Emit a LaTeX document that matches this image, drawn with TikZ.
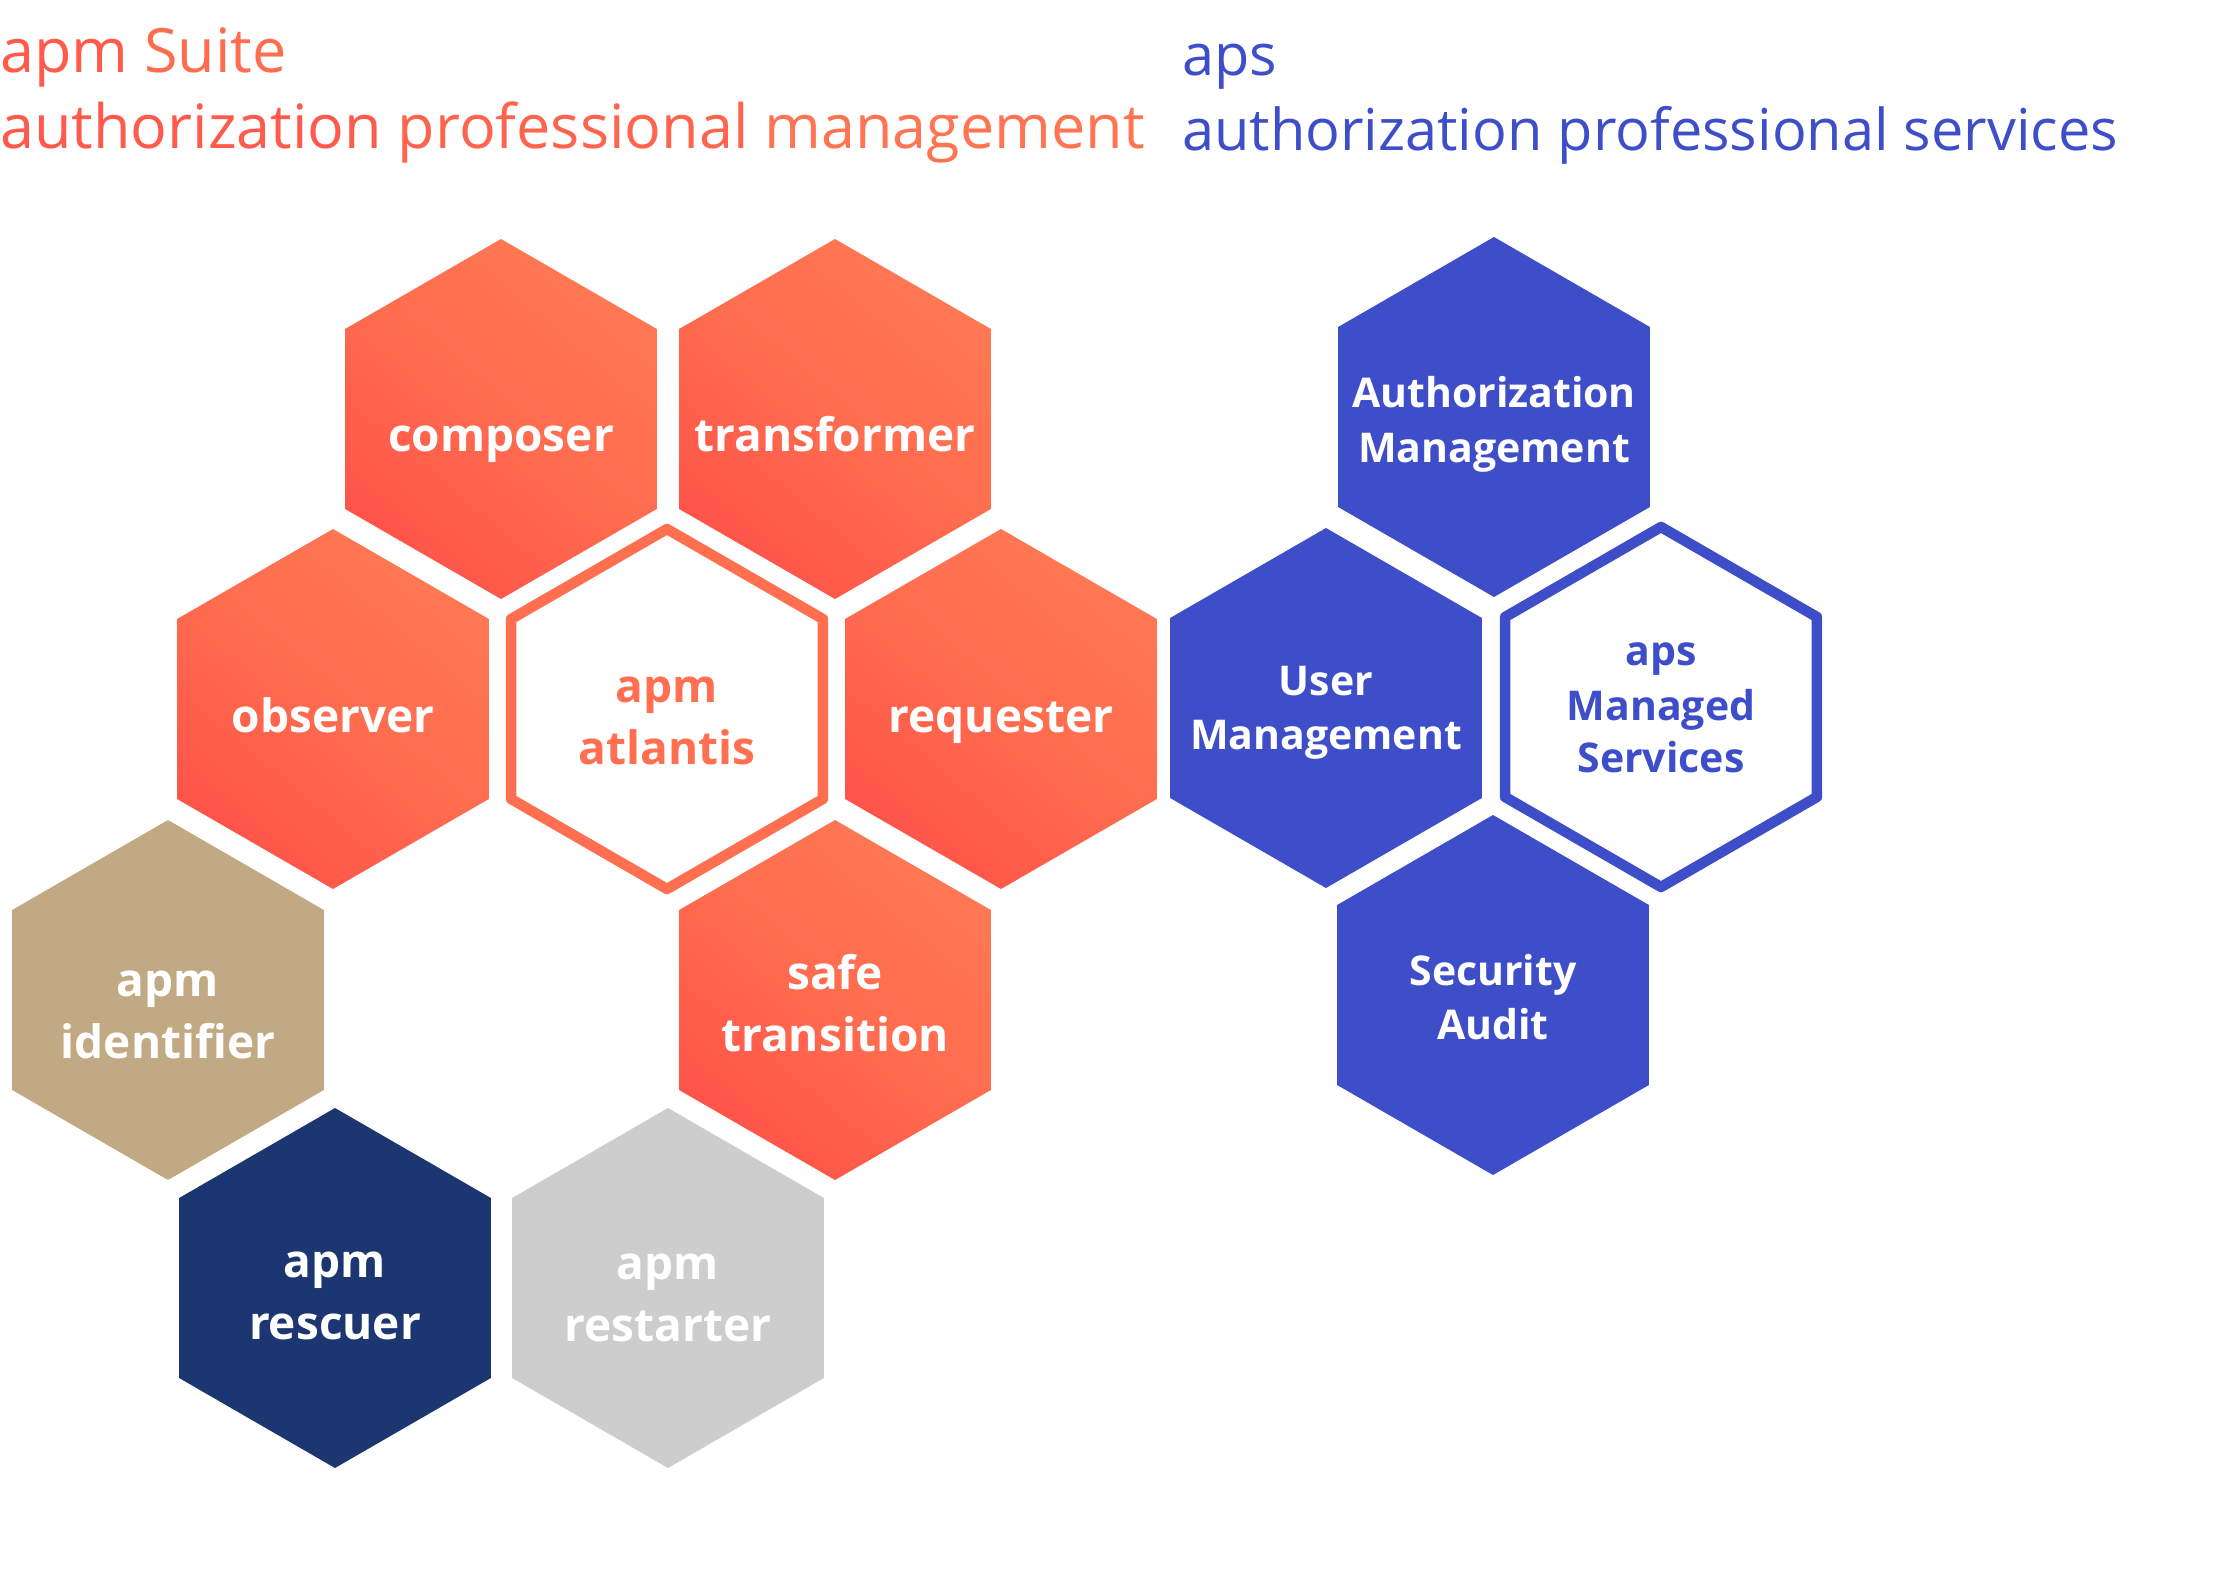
\documentclass[tikz,border=0pt]{standalone}
\usepackage{fontspec}
\setmainfont{Open Sans}
\usetikzlibrary{shapes.geometric}
\definecolor{orL}{HTML}{FF7853}
\definecolor{orM}{HTML}{FF6C4F}
\definecolor{orD}{HTML}{FF5449}
\definecolor{apsblue}{HTML}{3D4EC8}
\definecolor{tanhex}{HTML}{C1AA83}
\definecolor{navyhex}{HTML}{1B3670}
\definecolor{greyhex}{HTML}{CDCDCD}
\definecolor{atlorange}{HTML}{FF6F50}
\definecolor{tA}{HTML}{FF5A4C}
\definecolor{tB}{HTML}{FF644E}
\definecolor{tC}{HTML}{FF6D50}
\definecolor{tD}{HTML}{FF7452}
\begin{document}
\begin{tikzpicture}[x=1pt,y=-1pt,
  hexbase/.style={regular polygon, regular polygon sides=6, shape border rotate=30,
    minimum size=360pt, inner sep=0pt, outer sep=0pt},
  orangehex/.style={hexbase, top color=orL, bottom color=orD, middle color=orM, shading angle=-40},
  bluehex/.style={hexbase, fill=apsblue},
  tanhexs/.style={hexbase, fill=tanhex},
  navyhexs/.style={hexbase, fill=navyhex},
  greyhexs/.style={hexbase, fill=greyhex},
  outlinehex/.style={hexbase, fill=white, line width=10.5pt, line join=round, draw=#1},
  biglbl/.style={anchor=base, inner sep=0pt, text=white, font=\bfseries\fontsize{46}{62}\selectfont},
  smalllbl/.style={anchor=base, inner sep=0pt, text=white, font=\bfseries\fontsize{41}{54}\selectfont},
  titlelbl/.style={anchor=base west, inner sep=0pt}
]
\useasboundingbox (0,0) rectangle (2220,1594);

% titles
\node[titlelbl, font=\fontsize{61.1}{72}\selectfont] (suite) at (0,73)
  {\textcolor{tA}{apm} \textcolor{tC}{Suite}};
\node[titlelbl, font=\fontsize{61.1}{72}\selectfont] (suitefull) at (0,149)
  {\textcolor{tA}{authorization} \textcolor{tB}{professional} \textcolor{tD}{management}};
\node[titlelbl, font=\fontsize{57.7}{70}\selectfont, text=apsblue] (aps) at (1182,76) {aps};
\node[titlelbl, font=\fontsize{57.7}{70}\selectfont, text=apsblue] (apsfull) at (1182,151)
  {authorization professional services};

% hexagons
\node[orangehex] (composer) at (501,419) {};
\node[orangehex] (transformer) at (835,419) {};
\node[orangehex] (observer) at (333,709) {};
\node[outlinehex=atlorange] (atlantis) at (667,709) {};
\node[orangehex] (requester) at (1001,709) {};
\node[tanhexs] (identifier) at (168,1000) {};
\node[orangehex] (safe) at (835,1000) {};
\node[navyhexs] (rescuer) at (335,1288) {};
\node[greyhexs] (restarter) at (668,1288) {};
\node[bluehex] (authmgmt) at (1494,417) {};
\node[bluehex] (usermgmt) at (1326,708) {};
\node[outlinehex=apsblue] (apsms) at (1661,707) {};
\node[bluehex] (security) at (1493,995) {};

% labels
\node[biglbl] (composer-t) at (501,452) {composer};
\node[biglbl] (transformer-t) at (835,452) {transformer};
\node[biglbl] (observer-t) at (333,732) {observer};
\node[biglbl, text=atlorange] (atlantis-t1) at (667,702) {apm};
\node[biglbl, text=atlorange] (atlantis-t2) at (667,764) {atlantis};
\node[biglbl] (requester-t) at (1001,732) {requester};
\node[biglbl] (identifier-t1) at (168,996) {apm};
\node[biglbl] (identifier-t2) at (168,1058) {identifier};
\node[biglbl] (safe-t1) at (835,989) {safe};
\node[biglbl] (safe-t2) at (835,1051) {transition};
\node[biglbl] (rescuer-t1) at (335,1277) {apm};
\node[biglbl] (rescuer-t2) at (335,1339) {rescuer};
\node[biglbl] (restarter-t1) at (668,1279) {apm};
\node[biglbl] (restarter-t2) at (668,1341) {restarter};

\node[smalllbl] (authmgmt-t1) at (1494,408) {Authorization};
\node[smalllbl] (authmgmt-t2) at (1494,462) {Management};
\node[smalllbl] (usermgmt-t1) at (1326,695) {User};
\node[smalllbl] (usermgmt-t2) at (1326,749) {Management};
\node[smalllbl, text=apsblue] (apsms-t1) at (1661,665) {aps};
\node[smalllbl, text=apsblue] (apsms-t2) at (1661,720) {Managed};
\node[smalllbl, text=apsblue] (apsms-t3) at (1661,772) {Services};
\node[smalllbl] (security-t1) at (1493,985) {Security};
\node[smalllbl] (security-t2) at (1493,1039) {Audit};
\end{tikzpicture}
\end{document}
